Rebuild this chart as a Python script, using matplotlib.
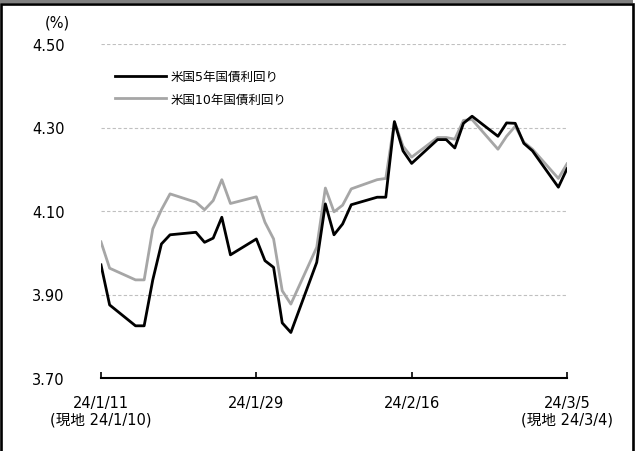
import numpy as np
import pandas as pd
import matplotlib
matplotlib.use("Agg")
import matplotlib.pyplot as plt
import matplotlib.dates as mdates
from matplotlib.patches import Rectangle

plt.rcParams['font.family'] = ['DejaVu Sans', 'Noto Sans CJK JP']

# Japanese business days (x axis is Japan date)
dates = pd.bdate_range("2024-01-11", "2024-03-05")

us5y = [3.971, 3.875, 3.825, 3.825, 3.935, 4.021, 4.043, 4.049, 4.025, 4.035,
        4.085, 3.995, 4.033, 3.981, 3.965, 3.832, 3.809, 3.977, 4.117, 4.043,
        4.069, 4.115, 4.133, 4.133, 4.314, 4.244, 4.214, 4.271, 4.271, 4.251,
        4.310, 4.327, 4.279, 4.311, 4.310, 4.262, 4.244, 4.157, 4.201]
us10y = [4.026, 3.963, 3.935, 3.935, 4.057, 4.103, 4.141, 4.121, 4.103, 4.125,
         4.175, 4.118, 4.134, 4.073, 4.033, 3.909, 3.877, 4.013, 4.155, 4.098,
         4.114, 4.153, 4.175, 4.178, 4.314, 4.255, 4.229, 4.276, 4.276, 4.272,
         4.317, 4.319, 4.248, 4.279, 4.303, 4.265, 4.248, 4.178, 4.213]

tick_dates = pd.to_datetime(["2024-01-11", "2024-01-29", "2024-02-16", "2024-03-05"])
tick_labels = ["24/1/11\n(現地 24/1/10)", "24/1/29", "24/2/16", "24/3/5\n(現地 24/3/4)"]
y_ticks = [3.70, 3.90, 4.10, 4.30, 4.50]

fig = plt.figure(figsize=(6.35, 4.52), dpi=100)
ax = fig.add_axes([101 / 635, 1 - 379 / 452, 466 / 635, 334 / 452])

ax.plot(dates, us5y, color="black", lw=2.0, label="米国5年国債利回り", zorder=3)
ax.plot(dates, us10y, color="#a6a6a6", lw=2.0, label="米国10年国債利回り", zorder=2)

ax.set_ylim(3.70, 4.50)
ax.set_xlim(tick_dates[0], tick_dates[-1])
ax.set_yticks(y_ticks)
ax.set_yticklabels(["%.2f" % v for v in y_ticks], fontsize=10.5)
for v in y_ticks[1:]:
    ax.axhline(v, color="#c0c0c0", lw=0.8, ls=(0, (3, 2)), zorder=1)

ax.set_xticks(tick_dates)
ax.set_xticklabels(tick_labels, fontsize=10.5, linespacing=1.15)
ax.tick_params(axis="x", direction="in", length=4, width=1.2, pad=12)
ax.tick_params(axis="y", length=0, pad=26)

for s in ["top", "right", "left"]:
    ax.spines[s].set_visible(False)
ax.spines["bottom"].set_linewidth(1.5)

ax.text(-0.12, 1.065, "(%)", transform=ax.transAxes, fontsize=10.5, ha="left", va="center")

ax.legend(loc="upper left", bbox_to_anchor=(0.005, 0.955), frameon=False, fontsize=9,
          handlelength=4.1, handletextpad=0.4, labelspacing=0.75)

# frame and top bar
fig.patches.append(Rectangle((0, 1 - 4 / 452), 633 / 635, 4 / 452, transform=fig.transFigure,
                             facecolor="#808080", edgecolor="none"))
fig.patches.append(Rectangle((1.3 / 635, -0.05), 631.5 / 635, 1.05 - 5 / 452, transform=fig.transFigure,
                             facecolor="none", edgecolor="black", lw=1.9))

fig.savefig("out.png", dpi=100)
